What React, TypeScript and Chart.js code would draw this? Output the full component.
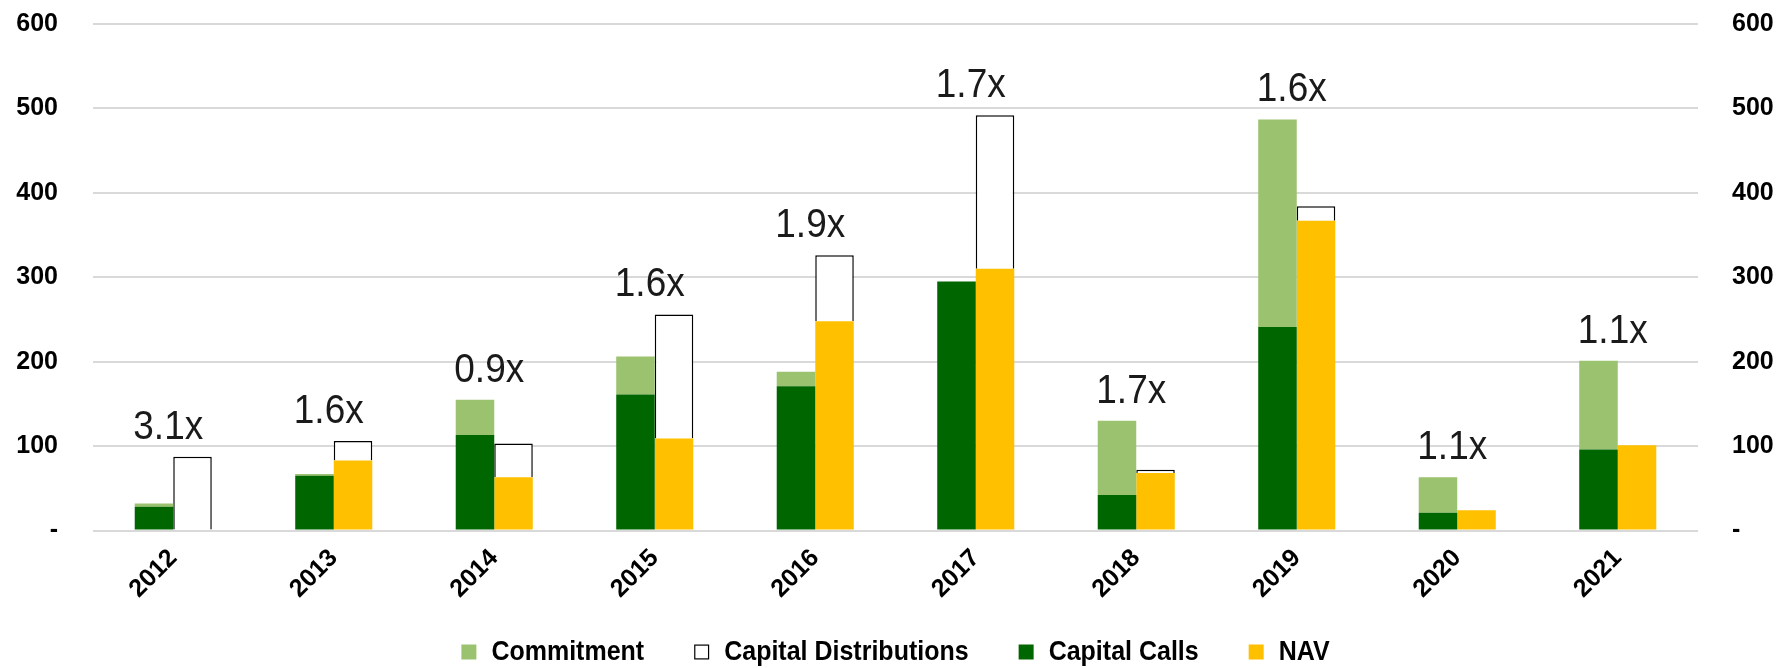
import React, { useEffect, useRef } from 'react';
import { Chart, registerables } from 'chart.js';

Chart.register(...registerables);

// ---- Data ----
const years = ['2012', '2013', '2014', '2015', '2016', '2017', '2018', '2019', '2020', '2021'];
const commitment = [32, 67, 155, 206, 188, 295, 130, 487, 63, 201];
const capitalCalls = [28, 65, 113, 161, 171, 295, 42, 241, 21, 96];
const nav = [0, 83, 63, 109, 248, 310, 68, 367, 24, 101];
const capitalDistributions = [87.5, 23, 40, 147, 78, 182, 4, 17, 0, 0];
const multiples = ['3.1x', '1.6x', '0.9x', '1.6x', '1.9x', '1.7x', '1.7x', '1.6x', '1.1x', '1.1x'];
const yTickValues = [0, 100, 200, 300, 400, 500, 600];

// ---- Styles ----
const LIGHT_GREEN = '#9BC26E';
const DARK_GREEN = '#006600';
const YELLOW = '#FFC000';
const GRID = '#D9D9D9';
const FONT = '"Liberation Sans", Arial, sans-serif';

const uncalledCommitment = commitment.map((c, i) => Math.max(0, c - capitalCalls[i]));

const multiplesPlugin = {
  id: 'multiplesLabels',
  afterDatasetsDraw(chart: any) {
    const ctx = chart.ctx;
    const xs = chart.scales.x;
    const ys = chart.scales.y;
    ctx.save();
    ctx.font = `37px ${FONT}`;
    ctx.fillStyle = '#1a1a1a';
    ctx.textAlign = 'center';
    ctx.textBaseline = 'alphabetic';
    multiples.forEach((t, i) => {
      const top = Math.max(commitment[i], capitalCalls[i], nav[i] + capitalDistributions[i]);
      const px = xs.getPixelForValue(i) - 5;
      const py = ys.getPixelForValue(top) - 18;
      ctx.save();
      ctx.translate(px, py);
      ctx.scale(1, 1.1);
      ctx.fillText(t, 0, 0);
      ctx.restore();
    });
    ctx.restore();
  },
};

const legendOrder = ['Commitment', 'Capital Distributions', 'Capital Calls', 'NAV'];

const customLegendPlugin = {
  id: 'customLegend',
  afterDraw(chart: any) {
    const ctx = chart.ctx;
    const area = chart.chartArea;
    const box = 15;
    const boxGap = 15;
    const itemGap = 50;
    const cy = 652;
    ctx.save();
    ctx.font = `bold 25px ${FONT}`;
    const items = legendOrder.map((name) => {
      const ds = chart.data.datasets.find((d: any) => d.label === name);
      return { name, ds, w: ctx.measureText(name).width };
    });
    const total = items.reduce((s, it) => s + box + boxGap + it.w, 0) + itemGap * (items.length - 1);
    let x = (area.left + area.right) / 2 - total / 2;
    items.forEach((it) => {
      ctx.fillStyle = it.ds.backgroundColor;
      ctx.fillRect(x, cy - box / 2, box, box);
      if (it.ds.borderWidth) {
        ctx.strokeStyle = '#000';
        ctx.lineWidth = 1.2;
        ctx.strokeRect(x + 0.6, cy - box / 2 + 0.6, box - 1.2, box - 1.2);
      }
      x += box + boxGap;
      ctx.fillStyle = '#000';
      ctx.textAlign = 'left';
      ctx.textBaseline = 'middle';
      ctx.save();
      ctx.translate(x, cy + 1);
      ctx.scale(1, 1.08);
      ctx.fillText(it.name, 0, 0);
      ctx.restore();
      x += it.w + itemGap;
    });
    ctx.restore();
  },
};

export default function App() {
  const canvasRef = useRef<HTMLCanvasElement | null>(null);

  useEffect(() => {
    if (!canvasRef.current) return;
    const tickFont = { family: FONT, size: 25, weight: 'bold' as const };
    const fmt = (v: any) => (Number(v) === 0 ? '-' : String(v));
    const chart = new Chart(canvasRef.current, {
      type: 'bar',
      data: {
        labels: years,
        datasets: [
          {
            label: 'Capital Calls',
            data: capitalCalls,
            backgroundColor: DARK_GREEN,
            stack: 'paid',
            borderWidth: 0,
          },
          {
            label: 'Commitment',
            data: uncalledCommitment,
            backgroundColor: LIGHT_GREEN,
            stack: 'paid',
            borderWidth: 0,
          },
          {
            label: 'NAV',
            data: nav,
            backgroundColor: YELLOW,
            stack: 'value',
            borderWidth: 0,
          },
          {
            label: 'Capital Distributions',
            data: capitalDistributions,
            backgroundColor: '#FFFFFF',
            borderColor: '#000000',
            borderWidth: 1.5,
            borderSkipped: 'start',
            stack: 'value',
          },
        ],
      },
      options: {
        responsive: false,
        animation: false,
        layout: { padding: { top: 24, bottom: 40, left: 0, right: 0 } },
        datasets: {
          bar: { categoryPercentage: 0.48, barPercentage: 1 },
        },
        plugins: {
          legend: { display: false },
          tooltip: { enabled: false },
          title: { display: false },
        },
        scales: {
          x: {
            stacked: true,
            grid: { display: false, drawTicks: false },
            border: { display: false },
            ticks: {
              font: tickFont,
              color: '#000',
              maxRotation: 45,
              minRotation: 45,
              autoSkip: false,
              padding: 13,
            },
            afterFit(scale: any) {
              scale.height = 97.5;
              scale.paddingLeft = 0;
              scale.paddingRight = 0;
            },
          },
          y: {
            position: 'left',
            stacked: true,
            min: 0,
            max: 600,
            afterBuildTicks(scale: any) {
              scale.ticks = yTickValues.map((v) => ({ value: v }));
            },
            grid: { color: GRID, lineWidth: 2, drawTicks: false },
            border: { display: false },
            ticks: { font: tickFont, color: '#000', padding: 35, callback: fmt },
            afterFit(scale: any) {
              scale.width = 93;
              scale.paddingTop = 0;
              scale.paddingBottom = 0;
            },
          },
          y2: {
            position: 'right',
            min: 0,
            max: 600,
            afterBuildTicks(scale: any) {
              scale.ticks = yTickValues.map((v) => ({ value: v }));
            },
            grid: { display: false, drawTicks: false },
            border: { display: false },
            ticks: { font: tickFont, color: '#000', padding: 34, callback: fmt },
            afterFit(scale: any) {
              scale.width = 81;
              scale.paddingTop = 0;
              scale.paddingBottom = 0;
            },
          },
        },
      },
      plugins: [multiplesPlugin, customLegendPlugin],
    } as any);
    return () => chart.destroy();
  }, []);

  return (
    <div style={{ position: 'absolute', left: 0, top: 0, width: 1779, height: 668, background: '#fff' }}>
      <canvas ref={canvasRef} width={1779} height={668} style={{ display: 'block' }} />
    </div>
  );
}
